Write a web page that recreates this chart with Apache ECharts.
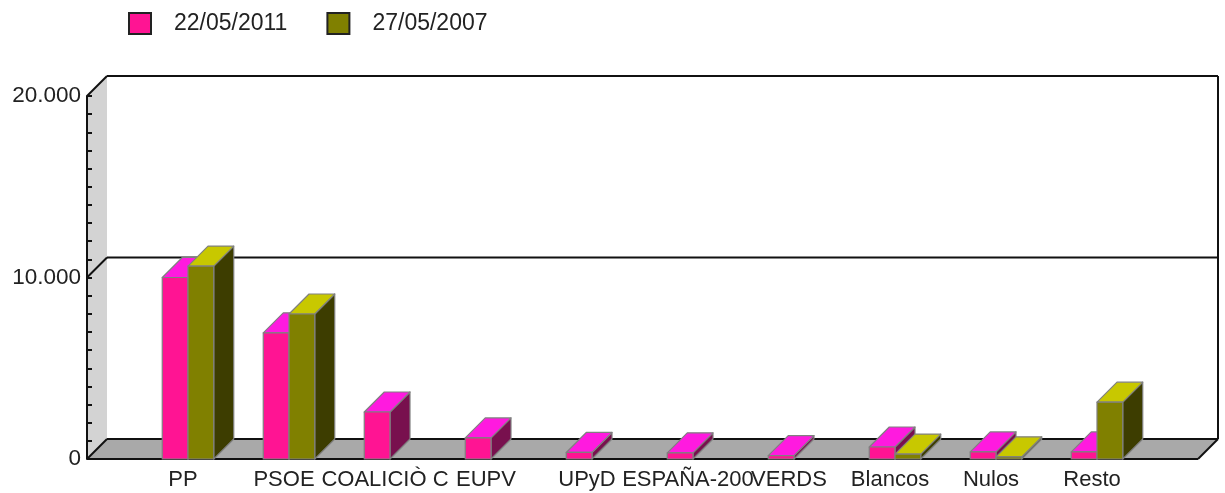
<!DOCTYPE html>
<html>
<head>
<meta charset="utf-8">
<script src="https://cdn.jsdelivr.net/npm/echarts@6/dist/echarts.min.js"></script>
<style>html,body{margin:0;padding:0;background:#fff}#c{width:1225px;height:493px}</style>
</head>
<body>
<div id="c"></div>
<script>
var categories = ['PP','PSOE','COALICIÒ C','EUPV','UPyD','ESPAÑA-200','VERDS','Blancos','Nulos','Resto'];
var seriesNames = ['22/05/2011','27/05/2007'];
var values2011 = [10000,6950,2590,1160,360,340,190,660,390,390];
var values2007 = [10630,7990,null,null,null,null,null,270,120,3130];
var yTicks = {min:0,max:20000,interval:10000};

var DEPTH = 20;
var FONT = '"Liberation Sans", Arial, sans-serif';
var TEXT = '#222';
var axisCats = [''].concat(categories, ['']);

function frameItem(params, api){
  var o = api.coord([0,0]), r = api.coord([axisCats.length-1,0]);
  var top = api.coord([0,yTicks.max]), mid = api.coord([0,10000]);
  var d = DEPTH, ln = {stroke:'#111',lineWidth:2,fill:null};
  function line(a,b){return {type:'line',shape:{x1:a[0],y1:a[1],x2:b[0],y2:b[1]},style:ln};}
  function poly(p,f){return {type:'polygon',shape:{points:p},style:{fill:f}};}
  function back(p){return [p[0]+d,p[1]-d];}
  var R = function(p){return [r[0]+d,p[1]-d];};
  return {type:'group',children:[
    poly([top,back(top),back(o),o],'#d3d3d3'),
    poly([o,back(o),R(o),r],'#a9a9a9'),
    line(back(top),R(top)),
    line(R(top),R(o)),
    line(back(o),R(o)),
    line(back(mid),R(mid)),
    line(top,back(top)),
    line(mid,back(mid)),
    line(o,back(o)),
    line(r,R(o)),
    line(o,r)
  ]};
}

function barRenderer(side, cols){
  return function(params, api){
    var v = api.value(1);
    if (v === null || isNaN(v)) return null;
    var w = api.size([1,0])[0]*0.255;
    var base = api.coord([api.value(0),0]);
    var tip = api.coord([api.value(0),v]);
    var x0 = base[0]+(side<0?-w:0), x1 = x0+w, y0 = tip[1], y1 = base[1], d = DEPTH;
    var bs = {stroke:'#808080',lineWidth:1.2,lineJoin:'round'};
    function poly(p,f){return {type:'polygon',shape:{points:p},style:Object.assign({fill:f},bs)};}
    return {type:'group',children:[
      poly([[x1,y0],[x1+d,y0-d],[x1+d,y1-d],[x1,y1]],cols.side),
      poly([[x0,y0],[x0+d,y0-d],[x1+d,y0-d],[x1,y0]],cols.top),
      poly([[x0,y0],[x1,y0],[x1,y1],[x0,y1]],cols.front)
    ]};
  };
}
function toData(arr){return arr.map(function(v,i){return [i+1,v];});}

var chart = echarts.init(document.getElementById('c'),null,{renderer:'canvas'});
chart.setOption({
  animation:false,
  backgroundColor:'#fff',
  legend:{
    data:seriesNames,left:123,top:7,itemWidth:22,itemHeight:21,itemGap:39,icon:'rect',
    textStyle:{fontFamily:FONT,fontSize:23,color:TEXT,padding:[0,0,6,18]}
  },
  grid:{left:87,right:27,top:96,bottom:34},
  xAxis:{
    type:'category',data:axisCats,boundaryGap:false,
    axisLine:{show:false},axisTick:{show:false},
    axisLabel:{interval:0,hideOverlap:false,margin:10,fontFamily:FONT,fontSize:22,color:TEXT,padding:[0,10,0,0]},
    splitLine:{show:false}
  },
  yAxis:{
    type:'value',min:yTicks.min,max:yTicks.max,interval:yTicks.interval,z:6,
    axisLine:{show:true,lineStyle:{color:'#111',width:2}},
    axisTick:{show:true,inside:true,length:5,lineStyle:{color:'#111',width:2}},
    minorTick:{show:true,splitNumber:10,length:5,lineStyle:{color:'#111',width:2}},
    splitLine:{show:false},minorSplitLine:{show:false},
    axisLabel:{margin:6,fontFamily:FONT,fontSize:22.5,color:TEXT,
      formatter:function(v){return String(v).replace(/\B(?=(\d{3})+$)/g,'.');}}
  },
  series:[
    {type:'custom',name:'frame',silent:true,z:1,clip:false,data:[[0,0]],renderItem:frameItem,encode:{x:0,y:1}},
    {type:'custom',name:seriesNames[0],z:3,clip:false,data:toData(values2011),encode:{x:0,y:1},
      itemStyle:{color:'#ff1493',borderColor:'#222',borderWidth:2},
      renderItem:barRenderer(-1,{front:'#ff1493',top:'#ff1adf',side:'#78104e'})},
    {type:'custom',name:seriesNames[1],z:4,clip:false,data:toData(values2007),encode:{x:0,y:1},
      itemStyle:{color:'#808000',borderColor:'#222',borderWidth:2},
      renderItem:barRenderer(1,{front:'#808000',top:'#c8c800',side:'#3d3d00'})}
  ]
});
</script>
</body>
</html>
